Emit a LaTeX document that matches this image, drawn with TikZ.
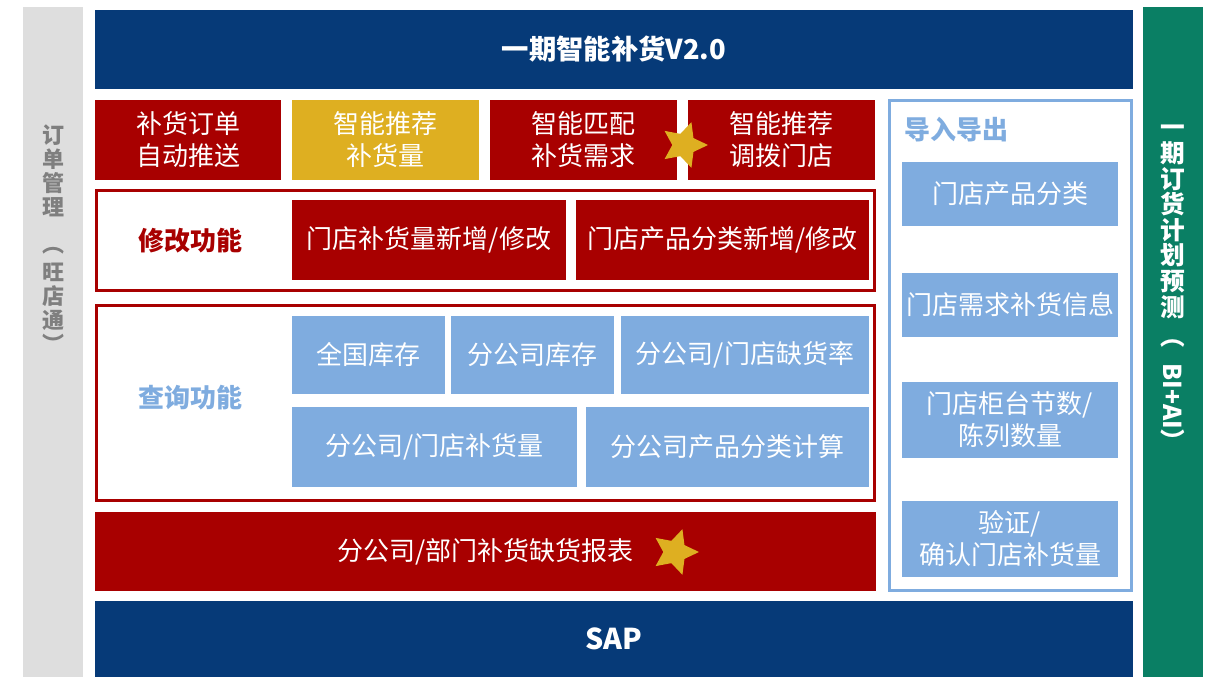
\documentclass[tikz,border=0pt]{standalone}
\usepackage{fontspec}
\setmainfont{Noto Sans CJK SC}
\usetikzlibrary{shapes.geometric}
\definecolor{navy}{HTML}{063A78}
\definecolor{dred}{HTML}{A80000}
\definecolor{gold}{HTML}{DEAF21}
\definecolor{lblue}{HTML}{7FACDF}
\definecolor{lgray}{HTML}{DEDEDE}
\definecolor{dgreen}{HTML}{0A7F64}
\definecolor{tgray}{HTML}{7F7F7F}
\newcommand\bx[7]{%
  \pgfmathsetmacro\bxw{(#4-#2)*0.75}%
  \pgfmathsetmacro\bxh{(#5-#3)*0.75}%
  \node[#6, minimum width=\bxw pt, minimum height=\bxh pt] (#1) at ({(#2+#4)/2},{(#3+#5)/2}) {#7};}
\tikzset{
  box/.style={inner sep=0pt, outer sep=0pt, align=center, text=white, font=\fontsize{19.5}{24}\selectfont},
  redbox/.style={box, fill=dred},
  goldbox/.style={box, fill=gold},
  bluebox/.style={box, fill=lblue},
  navybox/.style={box, fill=navy, font=\fontsize{20.5}{24}\selectfont\bfseries},
  sidebar/.style={box, text=black},
  frame/.style={draw=dred, line width=2.25pt},
  panel/.style={draw=lblue, line width=1.9pt},
  label/.style={inner sep=0pt, font=\fontsize{19.5}{24}\selectfont\bfseries},
  vtext/.style={inner sep=0pt, align=center, font=\fontsize{16.5}{18}\selectfont\bfseries},
  goldstar/.style={star, star points=5, star point ratio=2.05, fill=gold, inner sep=0pt, minimum size=36pt, shape border rotate=-90}
}
\begin{document}
\begin{tikzpicture}[x=0.75pt, y=-0.75pt]
\useasboundingbox (0,0) rectangle (1217,677);
% side bars
\bx{left}{23}{7}{83}{677}{sidebar, fill=lgray}{}
\bx{right}{1143}{7}{1203}{677}{sidebar, fill=dgreen}{}
\node[vtext, text=tgray, anchor=north] (lefttext) at (53,124)
  {订\\单\\管\\理\\[10pt]︵\\[3pt]旺\\店\\通\\︶};
\node[vtext, text=white, anchor=north, font=\fontsize{18.5}{19.2}\selectfont\bfseries] (righttext) at (1173,125)
  {一\\期\\订\\货\\计\\划\\预\\测\\[3pt]︵\\[-6pt]\rotatebox{-90}{BI+AI}\\︶};
% top and bottom bars
\bx{top}{95}{10}{1133}{89}{navybox}{一期智能补货V2.0}
\bx{sap}{95}{601}{1133}{677}{navybox, font=\fontsize{21.5}{24}\selectfont\bfseries}{SAP}
% first row
\bx{r1}{95}{100}{281}{180}{redbox}{补货订单\\自动推送}
\bx{r2}{292}{100}{479}{180}{goldbox}{智能推荐\\补货量}
\bx{r3}{490}{100}{677}{180}{redbox}{智能匹配\\补货需求}
\bx{r4}{688}{100}{875}{180}{redbox}{智能推荐\\调拨门店}
\node[goldstar] (star1) at (684,145) {};
% modify frame
\draw[frame] (96.5,190.5) rectangle (874.5,290.5);
\node[label, text=dred] (modlabel) at (190,241) {修改功能};
\bx{m1}{292}{200}{566}{280}{redbox}{门店补货量新增/修改}
\bx{m2}{576}{200}{869}{280}{redbox}{门店产品分类新增/修改}
% query frame
\draw[frame] (96.5,305.5) rectangle (874.5,500.5);
\node[label, text=lblue] (qlabel) at (190,398) {查询功能};
\bx{q1}{292}{316}{445}{394}{bluebox}{全国库存}
\bx{q2}{451}{316}{614}{394}{bluebox}{分公司库存}
\bx{q3}{621}{316}{869}{394}{bluebox}{分公司/门店缺货率}
\bx{q4}{292}{407}{577}{487}{bluebox}{分公司/门店补货量}
\bx{q5}{586}{407}{869}{487}{bluebox}{分公司产品分类计算}
% report
\bx{rep}{95}{512}{876}{591}{redbox}{分公司/部门补货缺货报表}
\node[goldstar] (star2) at (675,552) {};
% right panel
\draw[panel] (889.5,100.5) rectangle (1131.5,590.5);
\node[label, text=lblue, anchor=west] (iolabel) at (904,130) {导入导出};
\bx{p1}{902}{162}{1118}{226}{bluebox}{门店产品分类}
\bx{p2}{902}{273}{1118}{337}{bluebox}{门店需求补货信息}
\bx{p3}{902}{382}{1118}{458}{bluebox}{门店柜台节数/\\陈列数量}
\bx{p4}{902}{501}{1118}{577}{bluebox}{验证/\\确认门店补货量}
\end{tikzpicture}
\end{document}
